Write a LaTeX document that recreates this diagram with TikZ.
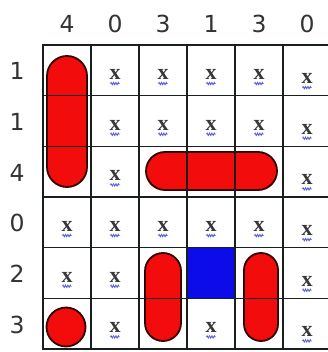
\documentclass[tikz,border=0pt]{standalone}
\usepackage{fontspec}
\setmainfont{Liberation Serif}
\newfontfamily\labfont{DejaVu Sans}
\usetikzlibrary{decorations.pathmorphing}
\definecolor{shipred}{RGB}{242,12,12}
\definecolor{waterblue}{RGB}{12,12,235}
\definecolor{gridc}{RGB}{25,30,30}
\definecolor{squigc}{RGB}{95,95,215}
\begin{document}
\begin{tikzpicture}[x=1pt,y=-1pt,
  numlab/.style={font=\labfont\fontsize{23.5}{23.5}\selectfont, text=black!80, inner sep=0},
  xmk/.style={font=\bfseries\fontsize{22}{22}\selectfont, text=black!78, inner sep=0},
  squig/.style={draw=squigc, line width=0.9pt, decorate, decoration={zigzag, amplitude=1.1pt, segment length=2.4pt}},
  ship/.style={fill=shipred, draw=black!80!red, line width=1.8pt},
  gridline/.style={draw=gridc, line width=1.6pt}]
\useasboundingbox (0,0) rectangle (328,352);
\clip (0,0) rectangle (328,352);
\fill[white] (0,0) rectangle (328,352);
% water cell
\fill[waterblue] (187,247.67) rectangle (235,298.33);
% ships
\draw[ship, rounded corners=20pt] (47,56) rectangle (87,187);
\draw[ship, rounded corners=19pt] (146,152) rectangle (277,190);
\draw[ship, rounded corners=18pt] (145,253) rectangle (181,341);
\draw[ship, rounded corners=17pt] (244,253) rectangle (278,341);
\draw[ship] (66,327) circle (19.5);
% grid
\foreach \i in {0,...,6} \draw[gridline] ({43+48*\i},45) -- ({43+48*\i},349);
\foreach \j in {0,...,6} \draw[gridline] (43,{45+50.67*\j}) -- (331,{45+50.67*\j});
\draw[gridc, line width=2.4pt] (43,45) rectangle (331,349);
% clues
\foreach \v [count=\i] in {4,0,3,1,3,0}
  \node[numlab] (col\i) at ({19+48*\i},23.5) {\v};
\foreach \v [count=\j] in {1,1,4,0,2,3}
  \node[numlab] (row\j) at (17,{45+50.67*(\j-0.5)+1}) {\v};
% x marks
\foreach \r/\c in {1/2,1/3,1/4,1/5,1/6, 2/2,2/3,2/4,2/5,2/6, 3/2,3/6,
                   4/1,4/2,4/3,4/4,4/5,4/6, 5/1,5/2,5/6, 6/2,6/4,6/6} {
  \pgfmathsetmacro\dy{\c==6 ? 8 : 4}
  \node[xmk] (x\r\c) at ({19+48*\c},{45+50.67*(\r-0.5)+\dy}) {x};
  \draw[squig] ([xshift=-4.5pt,yshift=-4pt]x\r\c.south) -- ([xshift=4.5pt,yshift=-4pt]x\r\c.south);
}
\end{tikzpicture}
\end{document}
